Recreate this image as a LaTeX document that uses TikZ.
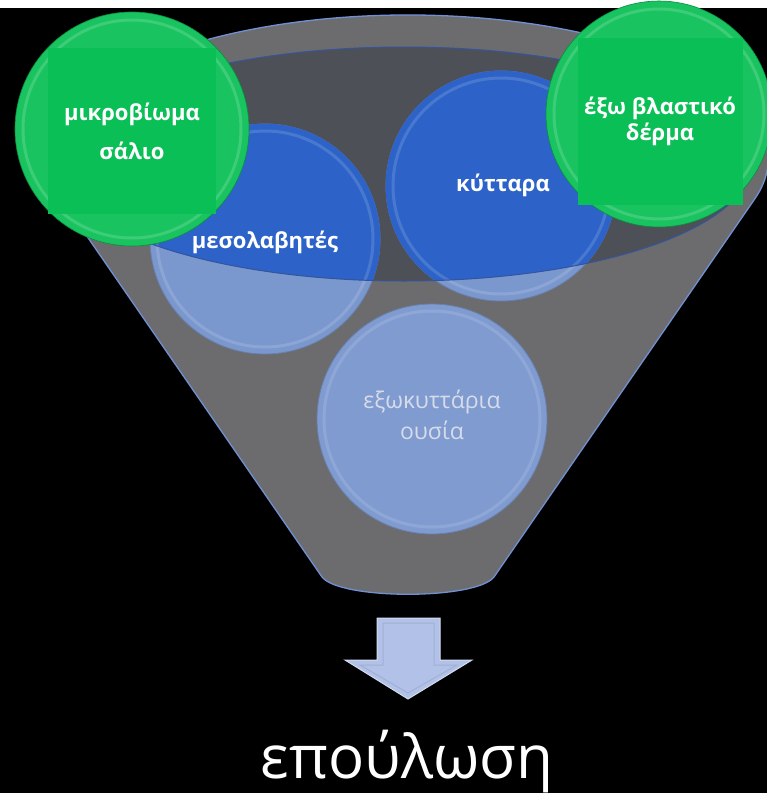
\documentclass[tikz,border=0pt]{standalone}
\usepackage{fontspec}
\setmainfont{Open Sans}
\usepackage{tikz}
\usetikzlibrary{calc}
\definecolor{funnelcol}{RGB}{108,108,110}
\definecolor{mouthcol}{RGB}{78,80,87}
\definecolor{edgecol}{RGB}{112,144,212}
\definecolor{lipcol}{RGB}{52,84,156}
\definecolor{bluecol}{RGB}{45,99,200}
\definecolor{palecol}{RGB}{122,151,206}
\definecolor{greencol}{RGB}{10,191,85}
\definecolor{arrowcol}{RGB}{178,193,232}
\definecolor{textgrey}{RGB}{214,220,233}
\tikzset{
  disc/.style={circle,inner sep=0pt,minimum size=#1},
  bluedisc/.style={disc=230pt,fill=palecol,draw=palecol!85!black,line width=0.8pt},
  greendisc/.style={disc=#1,fill=greencol!94!white,draw=greencol!75!black,line width=0.6pt},
  ring/.style={line width=3pt,draw opacity=0.3},
  tile/.style={rectangle,fill=greencol,minimum width=168pt,minimum height=166pt,inner sep=0pt,align=center,text=white},
  lbl/.style={text=white,font=\fontsize{22}{26}\selectfont\bfseries,align=center}
}

\begin{document}
\begin{tikzpicture}[x=1pt,y=-1pt]
  \fill[black] (0,0) rectangle (767,793);
  \fill[white] (0,0) rectangle (767,8);
  \useasboundingbox (0,0) rectangle (767,793);

  % funnel: rim ellipse, straight sides, rounded neck
  \coordinate (rimc) at (408,160);
  \coordinate (tl) at ($(rimc)+(164.5:360 and 145)$);
  \coordinate (tr) at ($(rimc)+(15.5:360 and 145)$);
  \coordinate (neckl) at (322,577);
  \coordinate (neckr) at (494,577);
  \fill[funnelcol] (tl) -- (neckl) .. controls (340,600) and (476,600) .. (neckr) -- (tr)
    arc[start angle=15.5,end angle=-195.5,x radius=360,y radius=145] -- cycle;
  \fill[mouthcol] (404,164) ellipse[x radius=346,y radius=117];

  % blue discs, pale where the funnel wall covers them
  \node[bluedisc] (mes) at (265,239) {};
  \node[bluedisc] (kyt) at (501,186) {};
  \node[bluedisc,fill=palecol!96!white] (exo) at (432,419) {};
  \foreach \d in {mes,kyt,exo}
    \draw[ring,palecol!55!white] (\d) circle (108);
  \begin{scope}
    \clip (404,164) ellipse[x radius=346,y radius=117];
    \foreach \d in {mes,kyt}{
      \fill[bluecol] (\d) circle (115.4);
      \draw[ring,bluecol!55!white] (\d) circle (108);
    }
  \end{scope}
  \draw[lipcol,line width=1pt] (404,164) ellipse[x radius=346,y radius=117];
  \draw[edgecol,line width=1.3pt] (tl) -- (neckl) .. controls (340,600) and (476,600) .. (neckr) -- (tr)
    arc[start angle=15.5,end angle=-195.5,x radius=360,y radius=145];

  \node[lbl] (mestxt) at (265,242) {μεσολαβητές};
  \node[lbl] (kyttxt) at (503,185) {κύτταρα};
  \node[lbl,font=\fontsize{23}{31}\selectfont,text=textgrey] (exotxt) at (432,415) {εξωκυττάρια\\ουσία};

  % green discs with their flat text tiles
  \node[greendisc=234pt] (mik) at (132,129) {};
  \draw[ring,greencol!45!white] (mik) circle (109);
  \node[tile,font=\fontsize{22}{39}\selectfont\bfseries] (miktxt) at (132,131) {μικροβίωμα\\σάλιο};
  \node[greendisc=226pt] (exw) at (659,114) {};
  \draw[ring,greencol!45!white] (exw) circle (105);
  \node[tile,minimum width=165pt,minimum height=167pt,font=\fontsize{22}{26}\selectfont\bfseries] (exwtxt) at (660,121) {έξω βλαστικό\\δέρμα};

  % block arrow down to the result
  \fill[arrowcol,draw=arrowcol!55!white,line width=1pt] (377,618) -- (440,618) -- (440,660) -- (472,660)
    -- (408,699) -- (345,660) -- (377,660) -- cycle;
  \draw[arrowcol!70!black,draw opacity=0.3,line width=1pt] (383,623) -- (434,623) -- (434,665) -- (457,665)
    -- (408,693) -- (360,665) -- (383,665) -- cycle;

  \node[anchor=base,text=white,font=\fontsize{60}{62}\selectfont] (heal) at (407,778) {επούλωση};
\end{tikzpicture}
\end{document}
